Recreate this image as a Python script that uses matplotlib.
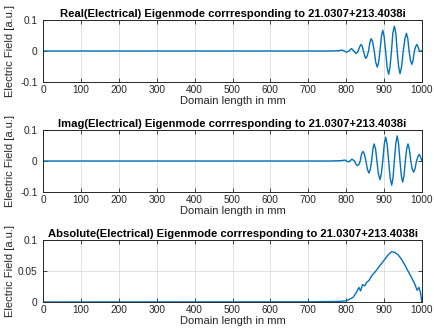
import matplotlib.pyplot as plt
import numpy as np

plt.rcParams['font.family'] = ['Liberation Sans', 'DejaVu Sans']

# Eigenmode of the electrical field along the domain (read at extrema, crossings and flanks)
x_re = [0, 760, 780, 789, 795, 801, 807, 814, 820, 826, 830, 833, 836, 839, 842, 845.5,
        849, 852, 855, 859, 862.5, 866, 870, 874, 878, 882, 885.5, 889, 893, 896.5, 900,
        904, 908, 912, 915.5, 919.5, 923, 927, 931, 934.5, 938.5, 942, 946, 950.5, 955,
        959, 962.5, 966, 969.5, 973, 976.5, 980, 983.5, 986.5, 990, 993, 995.5, 998, 1000]
y_re = [0, 0, 0.001, 0.003, 0, -0.004, 0, 0.008, 0, -0.008, -0.004, 0.005, 0.015, 0.021,
        0.016, 0, -0.017, -0.024, -0.017, 0, 0.028, 0.040, 0.028, 0, -0.037, -0.052, -0.037,
        0, 0.047, 0.067, 0.047, 0, -0.053, -0.075, -0.053, 0, 0.057, 0.080, 0.057, 0,
        -0.052, -0.073, -0.052, 0, 0.040, 0.057, 0.040, 0, -0.030, -0.043, -0.030, 0,
        0.015, 0.021, 0.012, 0, -0.002, 0.001, 0]

x_im = [0, 760, 785, 797, 801, 806, 810, 815, 822, 826, 830, 834, 837, 840.5, 844, 848,
        852, 856, 860, 863.5, 867, 870.5, 873.5, 877.5, 881, 885, 889, 892.5, 896.5, 900.5,
        904, 908, 912, 916, 920, 923.5, 927, 931, 934.5, 938, 942, 945.5, 949, 952.5, 956,
        959.5, 963, 966.5, 970.5, 974, 978, 981.5, 985.5, 989.5, 993, 996.5, 1000]
y_im = [0, 0, 0.001, 0.003, 0, -0.003, 0, 0.006, 0, -0.011, -0.015, -0.010, 0, 0.022,
        0.031, 0.022, 0, -0.027, -0.039, -0.027, 0, 0.039, 0.055, 0.039, 0, -0.042, -0.060,
        -0.042, 0, 0.054, 0.077, 0.054, 0, -0.055, -0.078, -0.055, 0, 0.057, 0.081, 0.057,
        0, -0.048, -0.068, -0.048, 0, 0.039, 0.055, 0.039, 0, -0.025, -0.036, -0.025, 0,
        0.015, 0.021, 0.012, 0]

x_abs = [0, 700, 760, 783, 801, 818, 827, 833.4, 838, 843, 849, 853.7, 860.5, 866.8, 875.5,
         884.3, 893, 902, 910.5, 919.5, 928, 937, 945.8, 954.5, 963, 972, 981, 987, 992, 996,
         999.5, 1000]
y_abs = [0, 0.0003, 0.0008, 0.001, 0.002, 0.0075, 0.0155, 0.0235, 0.018, 0.028, 0.026,
         0.0316, 0.035, 0.042, 0.048, 0.055, 0.062, 0.069, 0.076, 0.081, 0.080, 0.076, 0.069,
         0.060, 0.050, 0.040, 0.029, 0.019, 0.0235, 0.0155, 0.0, 0]

ev = '21.0307+213.4038i'
titles = ['Real(Electrical) Eigenmode corrresponding to ' + ev,
          'Imag(Electrical) Eigenmode corrresponding to ' + ev,
          'Absolute(Electrical) Eigenmode corrresponding to ' + ev]
series = [(x_re, y_re), (x_im, y_im), (x_abs, y_abs)]

W, H = 434, 331
fig = plt.figure(figsize=(W / 100, H / 100), dpi=100)
tops = [20, 130, 240]

for k, (xs, ys) in enumerate(series):
    top = tops[k]
    ax = fig.add_axes([43 / W, 1 - (top + 62) / H, 379 / W, 62 / H])
    ax.plot(xs, ys, color='#0072BD', lw=1.0)
    ax.set_xlim(0, 1000)
    ax.set_xticks(np.arange(0, 1001, 100))
    if k < 2:
        ax.set_ylim(-0.1, 0.1)
        ax.set_yticks([-0.1, 0, 0.1])
        ax.set_yticklabels(['-0.1', '0', '0.1'])
    else:
        ax.set_ylim(0, 0.1)
        ax.set_yticks([0, 0.05, 0.1])
        ax.set_yticklabels(['0', '0.05', '0.1'])
    ax.grid(True, color='#dcdcdc', lw=0.6)
    ax.set_axisbelow(True)
    ax.tick_params(direction='in', top=True, right=True, length=3, width=0.6,
                   labelsize=7.3, colors='#262626')
    ax.tick_params(axis='y', pad=4)
    ax.tick_params(axis='x', pad=2.5)
    for s in ax.spines.values():
        s.set_linewidth(0.7)
        s.set_color('#262626')
    ax.set_title(titles[k], fontsize=8.1, fontweight='bold', pad=2.5)
    ax.set_xlabel('Domain length in mm', fontsize=8, labelpad=0.5, color='#262626')
    ax.set_ylabel('Electric Field [a.u.]', fontsize=8, color='#262626')
    ax.yaxis.set_label_coords(-0.075, 0.5)

fig.savefig('out.png', dpi=100)
